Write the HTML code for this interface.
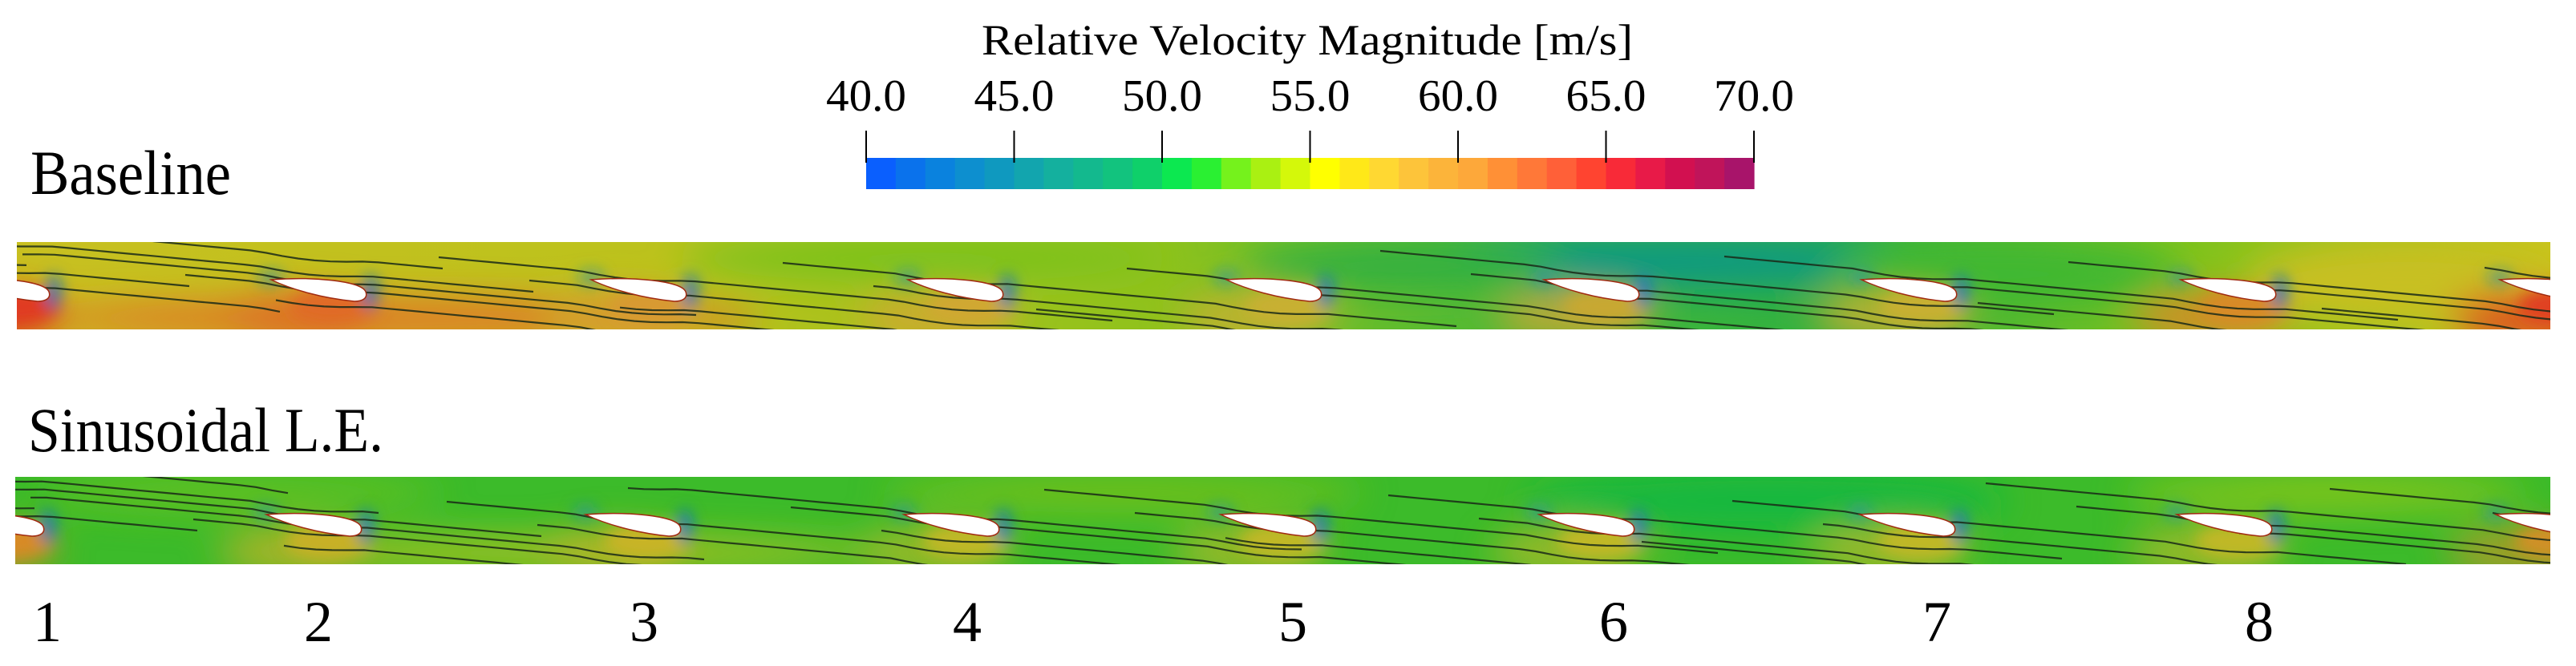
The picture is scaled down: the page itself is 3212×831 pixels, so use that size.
<!DOCTYPE html>
<html><head><meta charset="utf-8"><style>
html,body{margin:0;padding:0;background:#fff;}
svg{display:block;font-family:"Liberation Serif",serif;}
</style></head><body>
<svg id="fig" width="3212" height="831" viewBox="0 0 3212 831" xmlns="http://www.w3.org/2000/svg">
<defs>
<filter id="blur" x="-50%" y="-50%" width="200%" height="200%"><feGaussianBlur stdDeviation="22"/></filter>
<filter id="blurS" x="-50%" y="-50%" width="200%" height="200%"><feGaussianBlur stdDeviation="9"/></filter>
<clipPath id="clipA"><rect x="21" y="302" width="3159" height="109"/></clipPath>
<clipPath id="clipB"><rect x="19" y="595" width="3161" height="109"/></clipPath>
<linearGradient id="gA" x1="0" x2="1" y1="0" y2="0">
<stop offset="0" stop-color="#c8c020"/><stop offset="0.25" stop-color="#bcc21c"/><stop offset="0.45" stop-color="#8fc21c"/><stop offset="0.6" stop-color="#46b838"/><stop offset="0.72" stop-color="#2fb040"/><stop offset="0.85" stop-color="#7cc21c"/><stop offset="1" stop-color="#c8c41a"/>
</linearGradient>
</defs>
<text x="1630" y="68" font-size="54" text-anchor="middle" textLength="812" lengthAdjust="spacingAndGlyphs">Relative Velocity Magnitude [m/s]</text>
<g id="colorbar"></g>
<text x="38" y="242" font-size="78" textLength="250" lengthAdjust="spacingAndGlyphs">Baseline</text>
<text x="35" y="563" font-size="78" textLength="443" lengthAdjust="spacingAndGlyphs">Sinusoidal L.E.</text>
<g id="stripA" clip-path="url(#clipA)"></g>
<g id="stripB" clip-path="url(#clipB)"></g>
<g id="nums"></g>
</svg>
<script>
const tickValues=[40,45,50,55,60,65,70];
const tickLabels=["40.0","45.0","50.0","55.0","60.0","65.0","70.0"];
const barColors=["#0a5ffe","#0a72ec","#0a82de","#0d8fcf","#0f99bf","#12a5ae","#14b09e","#13b98e","#12c37e","#0fd06a","#0ce850","#2af032","#75f21c","#aaf012","#d4f80a","#ffff00","#ffe818","#ffd832","#fdc43a","#fcb43a","#fda83a","#ff9036","#ff7838","#ff6038","#ff4430","#f82a38","#e81a48","#d21050","#c0145a","#a8146a"];
const bladeNumbers=["1","2","3","4","5","6","7","8"];
const bladeEndsA=[61,456,855,1250,1647,2043,2439,2837,3235];
const bladeEndsB=[54,450,848,1245,1640,2037,2437,2832,3230];
const underA=["#e03a20","#e06a28","#d89a30","#d0a830","#c8b030","#c8a830","#c8b030","#d88a28","#e04020"];
const underB=["#d88a28","#c8b028","#c8b428","#c0b828","#c0b828","#c0b828","#c0b828","#c0b828","#d09028"];
const NS="http://www.w3.org/2000/svg";
function mk(t,a,p){const e=document.createElementNS(NS,t);for(const k in a)e.setAttribute(k,a[k]);if(p)p.appendChild(e);return e;}
const vmin=40,vmax=70,bx0=1080,bx1=2187;
function sx(v){return bx0+(v-vmin)/(vmax-vmin)*(bx1-bx0);}
const cb=document.getElementById('colorbar');
const segW=(bx1-bx0)/barColors.length;
barColors.forEach((c,i)=>{const r=mk('rect',{x:bx0+i*segW,y:197,width:segW+0.6,height:39,fill:c},cb);

});
tickValues.forEach((v,i)=>{const l=mk('line',{x1:sx(v),x2:sx(v),y1:163,y2:203,stroke:'#000','stroke-width':2},cb);


const t=mk('text',{x:sx(v),y:138,'font-size':56,'text-anchor':'middle',textLength:100,lengthAdjust:'spacingAndGlyphs'},cb);t.textContent=tickLabels[i];

});

function strip(g,x0,y0,w,h,base,ends,under,green,seed,uo){
 mk('rect',{x:x0,y:y0,width:w,height:h,fill:base},g);
 const fx=mk('g',{filter:'url(#blur)'},g);
 green.forEach(o=>mk('ellipse',{cx:o[0],cy:y0+o[1],rx:o[2],ry:o[3],fill:o[4]},fx));
 ends.forEach((e,i)=>{mk('ellipse',{cx:e-80,cy:y0+h-15,rx:100,ry:32,fill:under[i],opacity:uo},fx);});
 const fs=mk('g',{filter:'url(#blurS)'},g);
 ends.forEach((e,i)=>{mk('ellipse',{cx:e-40,cy:y0+80,rx:55,ry:22,fill:under[i]},fs);
  mk('ellipse',{cx:e+6,cy:y0+62,rx:10,ry:22,fill:'#1070c8',opacity:0.8},fs);
  mk('ellipse',{cx:e-118,cy:y0+44,rx:16,ry:8,fill:'#2090b0',opacity:0.7},fs);});
 const sl=mk('g',{fill:'none',stroke:'#1a2a18','stroke-width':2.2,opacity:0.85},g);
 for(let k=-22;k<24;k++){
  const xs=x0+k*150+((k*53+seed)%90);
  let d='';
  for(let x=xs;x<=xs+850;x+=20){
   const ph=((x-ends[0])%398+398)%398;
   const dip=ph>260?5*Math.sin((ph-260)/138*Math.PI):0;
   const y=y0+5+((k*29+seed)%80)+0.094*(x-xs)+dip;
   d+=(d?'L':'M')+x.toFixed(1)+' '+y.toFixed(1);
  }
  const p=mk('path',{d:d},sl);
  
  
 }
 ends.forEach(e=>{const tx=e-118,ty=y0+47,by=y0+74;
  const p=mk('path',{d:`M${tx} ${ty} C${tx+50} ${ty-4} ${e-6} ${by-26} ${e} ${by-12} C${e+3} ${by-4} ${e-4} ${by} ${e-14} ${by} C${e-55} ${by-4} ${tx+25} ${ty+12} ${tx} ${ty} Z`,fill:'#fff',stroke:'#a02a10','stroke-width':1.5},g);
  
  });
}
strip(document.getElementById('stripA'),21,302,3159,109,'url(#gA)',bladeEndsA,underA,
 [[1150,20,300,30,'#7cc21c'],[2050,25,350,35,'#109a80'],[1750,30,200,30,'#30b040'],[2500,40,220,40,'#40b830'],[3000,50,200,50,'#c8c020'],[500,95,450,25,'#e07a28']],7,0.9);
strip(document.getElementById('stripB'),19,595,3161,109,'#3cbb2a',bladeEndsB,underB,
 [[300,20,250,25,'#60c020'],[1400,20,300,25,'#70c01e'],[2200,30,300,40,'#18b840'],[2900,20,250,25,'#80c41c'],[700,95,400,20,'#a8c020']],19,0.7);
const nx=[41,379,785,1188,1594,1994,2397,2799];
const ng=document.getElementById('nums');
bladeNumbers.forEach((n,i)=>{const t=mk('text',{x:nx[i],y:800,'font-size':72},ng);t.textContent=n;

});
</script>
</body></html>
